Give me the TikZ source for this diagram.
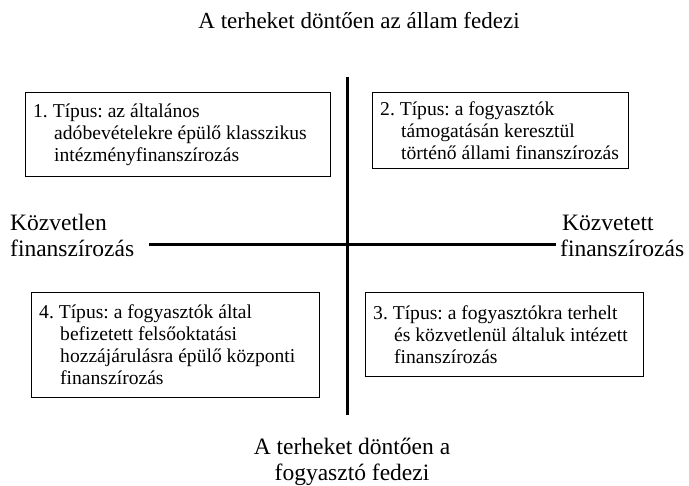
\documentclass[tikz,border=0pt]{standalone}
\usepackage{fontspec}
\setmainfont{Liberation Serif}
\frenchspacing
\newcommand\hind{\hspace*{21pt}}
\begin{document}
\begin{tikzpicture}[x=1pt,y=-1pt,
  axis/.style={line width=3pt},
  typebox/.style={draw, line width=0.9pt, anchor=north west, inner sep=0pt},
  typetext/.style={anchor=west, align=left, inner sep=0pt,
    font=\fontsize{19.6}{22}\selectfont},
  label/.style={font=\fontsize{23.5}{26}\selectfont, inner sep=0pt}
]
\useasboundingbox (0,0) rectangle (689,486);

% axes
\coordinate (vtop) at (347,77);
\coordinate (vbot) at (347,415);
\coordinate (hleft) at (149,245);
\coordinate (hright) at (556,245);
\draw[axis] (vtop) -- (vbot);
\draw[axis] (hleft) -- (hright);

% axis labels (anchored on the baseline of their last line)
\node[label, anchor=base, font=\fontsize{23}{26}\selectfont] (top) at (359,29)
  {A terheket döntően az állam fedezi};
\node[label, anchor=base, align=center] (bottom) at (352,481)
  {A terheket döntően a\\fogyasztó fedezi};
\node[label, anchor=base west, align=left] (left) at (10,257)
  {Közvetlen\\finanszírozás};
\node[label, anchor=base west, align=left] (right) at (560,257)
  {\hspace*{2pt}Közvetett\\finanszírozás};

% quadrant boxes
\node[typebox, minimum width=305pt, minimum height=84pt] (t1) at (25,92) {};
\node[typetext] (t1text) at ([xshift=8pt]t1.west)
  {1. Típus: az általános\\
   \hind adóbevételekre épülő klasszikus\\
   \hind intézményfinanszírozás};

\node[typebox, minimum width=256pt, minimum height=76pt] (t2) at (372,92) {};
\node[typetext] (t2text) at ([xshift=8pt]t2.west)
  {2. Típus: a fogyasztók\\
   \hind támogatásán keresztül\\
   \hind történő állami finanszírozás};

\node[typebox, minimum width=288pt, minimum height=105pt] (t4) at (31,292) {};
\node[typetext] (t4text) at ([xshift=8pt]t4.west)
  {4. Típus: a fogyasztók által\\
   \hind befizetett felsőoktatási\\
   \hind hozzájárulásra épülő központi\\
   \hind finanszírozás};

\node[typebox, minimum width=278pt, minimum height=84pt] (t3) at (365,292) {};
\node[typetext] (t3text) at ([xshift=8pt]t3.west)
  {3. Típus: a fogyasztókra terhelt\\
   \hind és közvetlenül általuk intézett\\
   \hind finanszírozás};
\end{tikzpicture}
\end{document}
